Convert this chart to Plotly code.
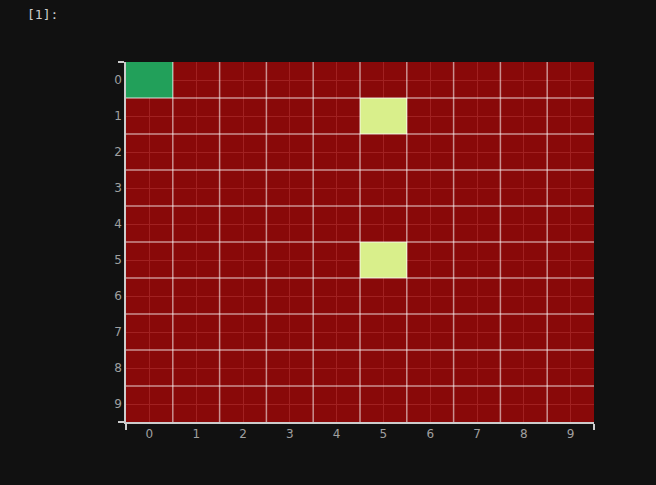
import plotly.graph_objects as go

rows = list(range(10))
cols = list(range(10))
# cell values: 0 = low (red), 1 = mid (light yellow-green), 2 = high (green)
z = [
    [2, 0, 0, 0, 0, 0, 0, 0, 0, 0],
    [0, 0, 0, 0, 0, 1, 0, 0, 0, 0],
    [0, 0, 0, 0, 0, 0, 0, 0, 0, 0],
    [0, 0, 0, 0, 0, 0, 0, 0, 0, 0],
    [0, 0, 0, 0, 0, 0, 0, 0, 0, 0],
    [0, 0, 0, 0, 0, 1, 0, 0, 0, 0],
    [0, 0, 0, 0, 0, 0, 0, 0, 0, 0],
    [0, 0, 0, 0, 0, 0, 0, 0, 0, 0],
    [0, 0, 0, 0, 0, 0, 0, 0, 0, 0],
    [0, 0, 0, 0, 0, 0, 0, 0, 0, 0],
]
tick_labels = [str(i) for i in range(10)]

red = "rgba(151,9,9,0.9)"
colorscale = [
    [0.0, red], [1 / 3, red],
    [1 / 3, "#d9ef8b"], [2 / 3, "#d9ef8b"],
    [2 / 3, "#22a05a"], [1.0, "#22a05a"],
]

fig = go.Figure(go.Heatmap(
    z=z, x=cols, y=rows, colorscale=colorscale, zmin=0, zmax=2,
    showscale=False, hoverinfo="skip",
))

shapes = []
n = len(cols)
# brighter lines at cell boundaries
for i in range(1, n):
    shapes.append(dict(type="line", xref="x", yref="paper", x0=i - 0.5, x1=i - 0.5, y0=0, y1=1,
                       line=dict(color="rgba(255,255,255,0.55)", width=1.5), layer="above"))
for i in range(1, len(rows)):
    shapes.append(dict(type="line", xref="paper", yref="y", x0=0, x1=1, y0=i - 0.5, y1=i - 0.5,
                       line=dict(color="rgba(255,255,255,0.55)", width=1.5), layer="above"))

axis_common = dict(
    showgrid=True, gridcolor="#ffffff", gridwidth=1, zeroline=False,
    showline=True, linecolor="#cccccc", linewidth=1.5,
    ticks="", tickfont=dict(family="DejaVu Sans", size=12, color="#a0a0a0"),
)

fig.update_layout(
    width=656, height=485,
    margin=dict(l=126, r=62, t=62, b=63),
    paper_bgcolor="#111111", plot_bgcolor="#111111",
    shapes=shapes,
    xaxis=dict(range=[-0.5, 9.5], tickvals=cols, ticktext=tick_labels,
               minor=dict(tickmode="array", tickvals=[-0.5, 9.5], ticks="outside",
                          ticklen=6, tickcolor="#cccccc", tickwidth=1.5, showgrid=False),
               **axis_common),
    yaxis=dict(range=[9.5, -0.5], tickvals=rows, ticktext=tick_labels,
               minor=dict(tickmode="array", tickvals=[-0.5, 9.5], ticks="outside",
                          ticklen=6, tickcolor="#cccccc", tickwidth=1.5, showgrid=False),
               **axis_common),
    annotations=[dict(text="[1]:", xref="paper", yref="paper", x=(25 - 126) / 468, y=1 + 48 / 360,
                      xanchor="left", yanchor="middle", showarrow=False,
                      font=dict(family="DejaVu Sans Mono", size=13, color="#cccccc"))],
)

fig.write_html("out.html")
